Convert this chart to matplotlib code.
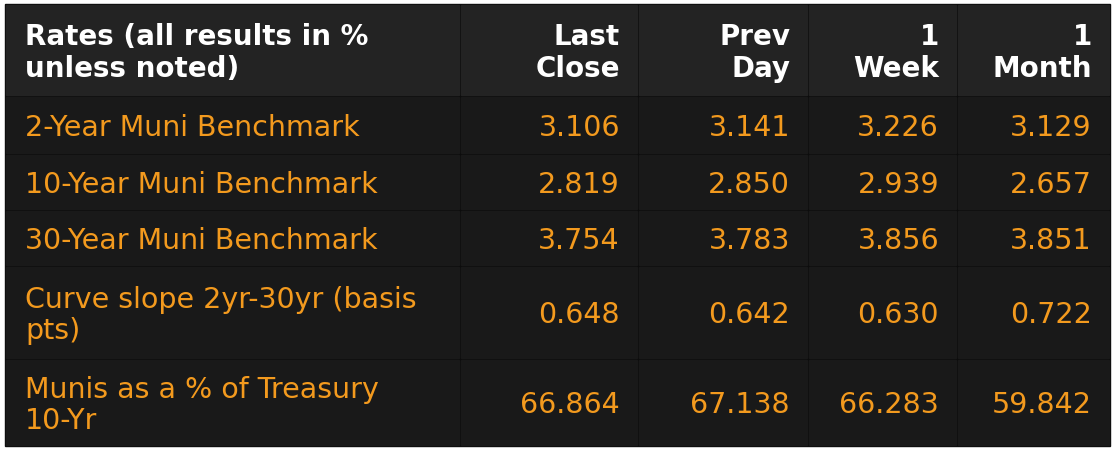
import matplotlib.pyplot as plt
from matplotlib.patches import Rectangle

headers = ["Rates (all results in %\nunless noted)", "Last\nClose", "Prev\nDay", "1\nWeek", "1\nMonth"]
row_labels = ["2-Year Muni Benchmark", "10-Year Muni Benchmark", "30-Year Muni Benchmark",
              "Curve slope 2yr-30yr (basis\npts)", "Munis as a % of Treasury\n10-Yr"]
last_close = ["3.106", "2.819", "3.754", "0.648", "66.864"]
prev_day = ["3.141", "2.850", "3.783", "0.642", "67.138"]
one_week = ["3.226", "2.939", "3.856", "0.630", "66.283"]
one_month = ["3.129", "2.657", "3.851", "0.722", "59.842"]

W, H = 1120, 452
col_x = [5, 460, 638, 808, 957, 1110]
row_y = [5, 97, 155, 211, 267, 360, 447]
orange = "#f39a1e"

fig = plt.figure(figsize=(W / 100, H / 100), dpi=100)
ax = fig.add_axes([0, 0, 1, 1])
ax.set_xlim(0, W)
ax.set_ylim(H, 0)
ax.axis("off")

ax.add_patch(Rectangle((col_x[0], row_y[0]), col_x[-1] - col_x[0], row_y[-1] - row_y[0], color="#0c0c0c"))
for r in range(len(row_y) - 1):
    bg = "#232323" if r == 0 else "#191919"
    for c in range(len(col_x) - 1):
        ax.add_patch(Rectangle((col_x[c] + 1, row_y[r] + 1), col_x[c + 1] - col_x[c] - 2,
                               row_y[r + 1] - row_y[r] - 2, color=bg))

def cell_text(r, c, s, color, bold=False):
    yc = (row_y[r] + row_y[r + 1]) / 2 + 2
    size = 20 if bold else 20.5
    kw = dict(va="center", color=color, fontsize=size,
              fontweight="bold" if bold else "normal", linespacing=1.15)
    if c == 0:
        ax.text(col_x[0] + 20, yc, s, ha="left", **kw)
    else:
        ax.text(col_x[c + 1] - 18, yc, s, ha="right", multialignment="right", **kw)

for c, h in enumerate(headers):
    cell_text(0, c, h, "white", bold=True)

columns = [row_labels, last_close, prev_day, one_week, one_month]
for c, col in enumerate(columns):
    for r, v in enumerate(col):
        cell_text(r + 1, c, v, orange)

fig.savefig("out.png", dpi=100, facecolor="white")
